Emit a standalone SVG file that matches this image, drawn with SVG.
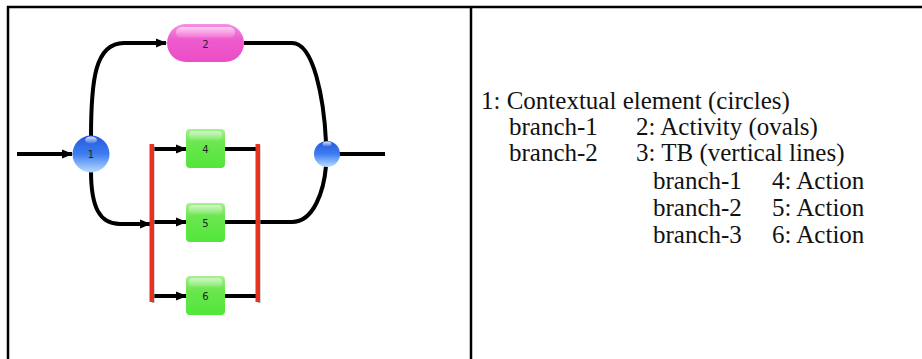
<svg xmlns="http://www.w3.org/2000/svg" width="922" height="359" viewBox="0 0 922 359">
<style>
.frame{stroke:#000;stroke-width:2.5;fill:none}
.edge{stroke:#000;stroke-width:4;fill:none}
.lbl{font-family:"DejaVu Sans",sans-serif;font-size:10px;fill:#222;text-anchor:middle}
.txt{font-family:"Liberation Serif","Times New Roman",serif;font-size:25px;fill:#111}
.bar{fill:#e8321c}
.shadow{fill:#a8a8a8}
</style>
<defs>
<marker id="ah" markerWidth="11" markerHeight="10" refX="10" refY="5" orient="auto" markerUnits="userSpaceOnUse">
<path d="M0,0.5 L11,5 L0,9.5 Z" fill="#000"/>
</marker>
<linearGradient id="gBlue" x1="0" y1="0" x2="0" y2="1">
<stop offset="0" stop-color="#2458dc"/>
<stop offset="0.5" stop-color="#3e7cf0"/>
<stop offset="1" stop-color="#b8dcff"/>
</linearGradient>
<linearGradient id="gGreen" x1="0" y1="0" x2="0" y2="1">
<stop offset="0" stop-color="#a6f192"/>
<stop offset="0.35" stop-color="#6ce650"/>
<stop offset="1" stop-color="#52e63a"/>
</linearGradient>
<linearGradient id="gPink" x1="0" y1="0" x2="0" y2="1">
<stop offset="0" stop-color="#f590e2"/>
<stop offset="0.4" stop-color="#ee5ccd"/>
<stop offset="1" stop-color="#ec4cc6"/>
</linearGradient>
<linearGradient id="gHi" x1="0" y1="0" x2="0" y2="1">
<stop offset="0" stop-color="#fff" stop-opacity="0.85"/>
<stop offset="1" stop-color="#fff" stop-opacity="0.1"/>
</linearGradient>
</defs>
<g id="frame">
<line class="frame" x1="7" y1="7" x2="922" y2="7"/>
<line class="frame" x1="8" y1="6" x2="8" y2="359"/>
<line class="frame" x1="471" y1="6" x2="471" y2="359"/>
</g>
<g id="connectors">
<line class="edge" x1="17" y1="154" x2="72" y2="154" marker-end="url(#ah)"/>
<path class="edge" d="M91,137 C91,80 95,43 124,43 L166,43" marker-end="url(#ah)"/>
<path class="edge" d="M91,171 C91,208 100,224 120,224 L150,224" marker-end="url(#ah)"/>
<path class="edge" d="M244,43 L292,43 C314,43 324,100 326,142"/>
<path class="edge" d="M225,222 L292,222 C314,222 324,190 326,166"/>
<line class="edge" x1="339" y1="154" x2="385" y2="154"/>
<line class="edge" x1="154" y1="149" x2="186" y2="149" marker-end="url(#ah)"/>
<line class="edge" x1="154" y1="222" x2="186" y2="222" marker-end="url(#ah)"/>
<line class="edge" x1="154" y1="296" x2="186" y2="296" marker-end="url(#ah)"/>
<line class="edge" x1="225" y1="149" x2="256" y2="149"/>
<line class="edge" x1="225" y1="296" x2="256" y2="296"/>
</g>
<g id="tb-left">
<rect class="shadow" x="152" y="145" width="2.5" height="158"/>
<rect class="bar" x="149.5" y="144" width="4.5" height="158"/>
</g>
<g id="tb-right">
<rect class="shadow" x="258" y="145" width="2.5" height="158"/>
<rect class="bar" x="255.5" y="144" width="4.5" height="158"/>
</g>
<g id="node-1">
<circle cx="91" cy="154" r="18.5" fill="url(#gBlue)"/>
<ellipse cx="91" cy="140" rx="6" ry="3.5" fill="url(#gHi)"/>
<text class="lbl" x="91" y="158">1</text>
</g>
<g id="node-2">
<rect x="167" y="24" width="77" height="38" rx="19" fill="url(#gPink)"/>
<rect x="176" y="27" width="59" height="11" rx="5.5" fill="url(#gHi)" opacity="0.7"/>
<text class="lbl" x="205.5" y="48">2</text>
</g>
<g id="node-3">
<circle cx="327" cy="154" r="13" fill="url(#gBlue)"/>
<ellipse cx="327" cy="144" rx="4.5" ry="2.5" fill="url(#gHi)"/>
</g>
<g id="node-4">
<rect x="186" y="129" width="39" height="39" rx="4" fill="url(#gGreen)"/>
<rect x="189" y="131" width="33" height="9" rx="4" fill="url(#gHi)" opacity="0.6"/>
<text class="lbl" x="205.5" y="153">4</text>
</g>
<g id="node-5">
<rect x="186" y="203" width="39" height="39" rx="4" fill="url(#gGreen)"/>
<rect x="189" y="205" width="33" height="9" rx="4" fill="url(#gHi)" opacity="0.6"/>
<text class="lbl" x="205.5" y="227">5</text>
</g>
<g id="node-6">
<rect x="186" y="276" width="39" height="39" rx="4" fill="url(#gGreen)"/>
<rect x="189" y="278" width="33" height="9" rx="4" fill="url(#gHi)" opacity="0.6"/>
<text class="lbl" x="205.5" y="300">6</text>
</g>
<g id="legend">
<text class="txt" x="481" y="109">1: Contextual element (circles)</text>
<text class="txt" x="509" y="135">branch-1</text>
<text class="txt" x="636" y="135">2: Activity (ovals)</text>
<text class="txt" x="509" y="161">branch-2</text>
<text class="txt" x="636" y="161">3: TB (vertical lines)</text>
<text class="txt" x="653" y="189">branch-1</text>
<text class="txt" x="772" y="189">4: Action</text>
<text class="txt" x="653" y="216">branch-2</text>
<text class="txt" x="772" y="216">5: Action</text>
<text class="txt" x="653" y="243">branch-3</text>
<text class="txt" x="772" y="243">6: Action</text>
</g>
</svg>
